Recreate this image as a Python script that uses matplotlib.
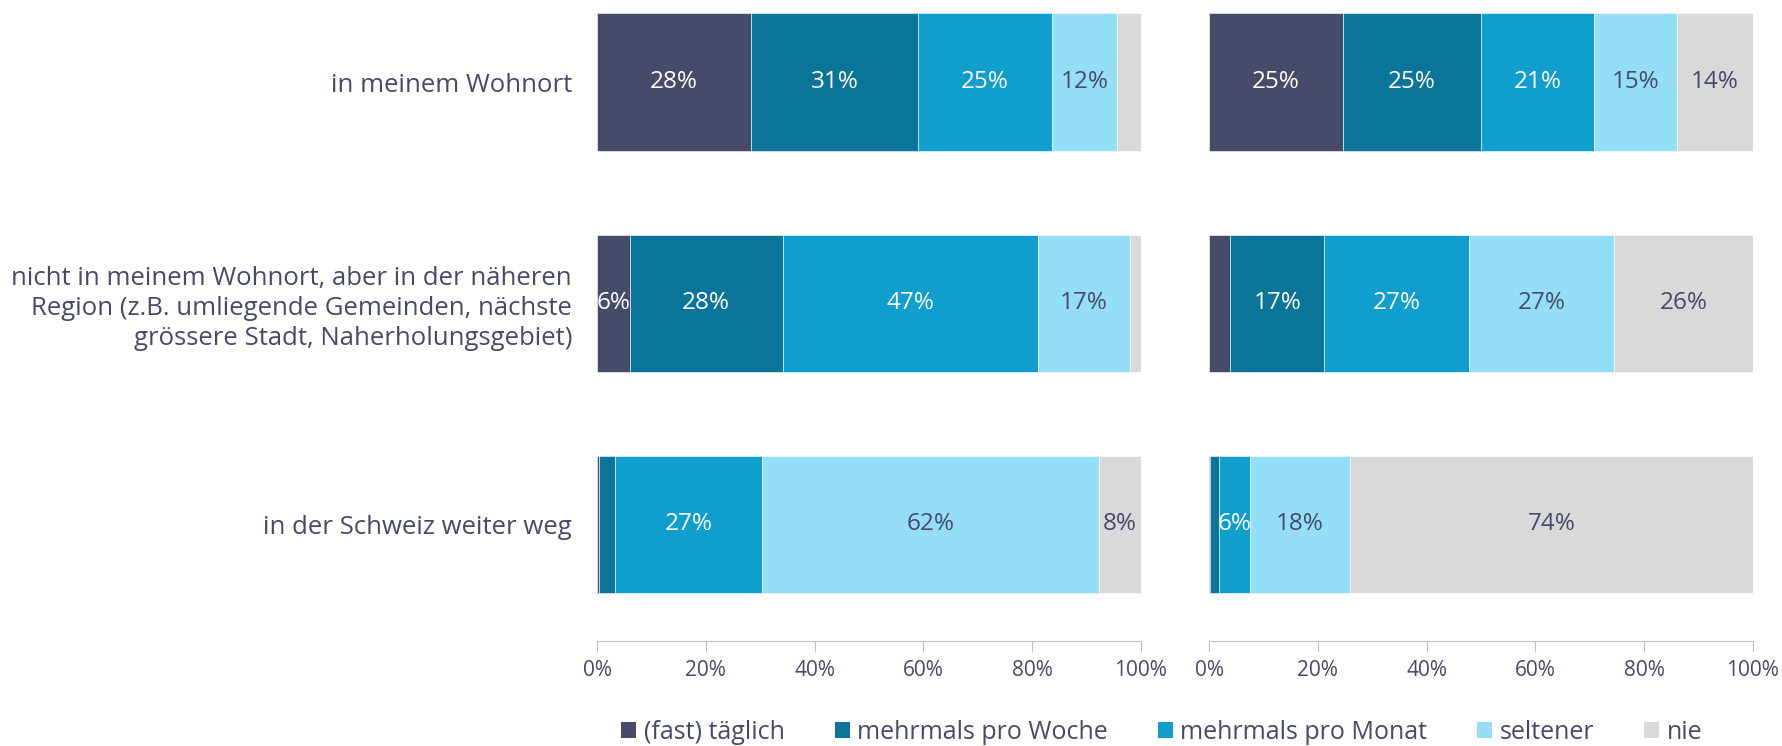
import numpy as np
import matplotlib
matplotlib.use("Agg")
from matplotlib import pyplot as plt
from matplotlib.patches import Patch

# categories (top to bottom)
categories = [
    "in meinem Wohnort",
    "nicht in meinem Wohnort, aber in der näheren\nRegion (z.B. umliegende Gemeinden, nächste\ngrössere Stadt, Naherholungsgebiet)",
    "in der Schweiz weiter weg",
]
series = ["(fast) täglich", "mehrmals pro Woche", "mehrmals pro Monat", "seltener", "nie"]
colors = ["#474B6A", "#0B7599", "#0F9ECE", "#94DFF7", "#D9D9D9"]
label_colors = ["white", "white", "white", "#464A6A", "#464A6A"]

# left panel values (%), one list per series, rows top to bottom
left_taeglich = [28.4, 6.0, 0.3]
left_woche = [30.6, 28.1, 3.1]
left_monat = [24.7, 47.0, 26.9]
left_seltener = [11.9, 16.8, 62.0]
left_nie = [4.4, 2.1, 7.7]

# right panel values (%)
right_taeglich = [24.6, 3.9, 0.2]
right_woche = [25.4, 17.3, 1.6]
right_monat = [20.7, 26.6, 5.8]
right_seltener = [15.3, 26.6, 18.3]
right_nie = [14.0, 25.6, 74.1]

left_data = [left_taeglich, left_woche, left_monat, left_seltener, left_nie]
right_data = [right_taeglich, right_woche, right_monat, right_seltener, right_nie]

text_col = "#464A6A"
plt.rcParams['font.family'] = ['Open Sans', 'DejaVu Sans']

fig = plt.figure(figsize=(17.82, 7.46), dpi=100)
W, H = 1782, 746
ax_l = fig.add_axes([597 / W, 1 - 641 / H, 544 / W, 641 / H])
ax_r = fig.add_axes([1209 / W, 1 - 641 / H, 544 / W, 641 / H])

y = np.arange(len(categories))


def draw_panel(ax, data):
    left = np.zeros(len(categories))
    for i, vals in enumerate(data):
        vals = np.array(vals)
        ax.barh(y, vals, left=left, height=0.62, color=colors[i],
                edgecolor="white", linewidth=0.4)
        for j, v in enumerate(vals):
            if v >= 5.5:
                ax.text(left[j] + v / 2, y[j], f"{round(v):.0f}%",
                        ha="center", va="center", fontsize=17.5,
                        color=label_colors[i])
        left += vals
    ax.set_xlim(0, 100)
    ax.set_ylim(2.529, -0.371)
    ax.set_xticks(range(0, 101, 20))
    ax.set_xticklabels([f"{t}%" for t in range(0, 101, 20)])
    for s in ["top", "right", "left"]:
        ax.spines[s].set_visible(False)
    ax.spines["bottom"].set_color("#BFBFBF")
    ax.tick_params(axis="x", colors="#BFBFBF", labelcolor=text_col,
                   labelsize=15, length=8, pad=6)
    ax.tick_params(axis="y", length=0)
    ax.set_yticks([])


draw_panel(ax_l, left_data)
draw_panel(ax_r, right_data)

ax_l.set_yticks(y)
ax_l.set_yticklabels(categories, fontsize=18.5, color=text_col,
                     linespacing=1.25)
ax_l.tick_params(axis="y", pad=18)

handles = [Patch(facecolor=c, edgecolor="none") for c in colors]
fig.legend(handles, series, loc="center", bbox_to_anchor=(0.652, 0.018),
           ncol=5, frameon=False, fontsize=18, labelcolor=text_col,
           handlelength=0.6, handleheight=0.6, handletextpad=0.3,
           columnspacing=2.0)

fig.savefig("out.png", dpi=100)
